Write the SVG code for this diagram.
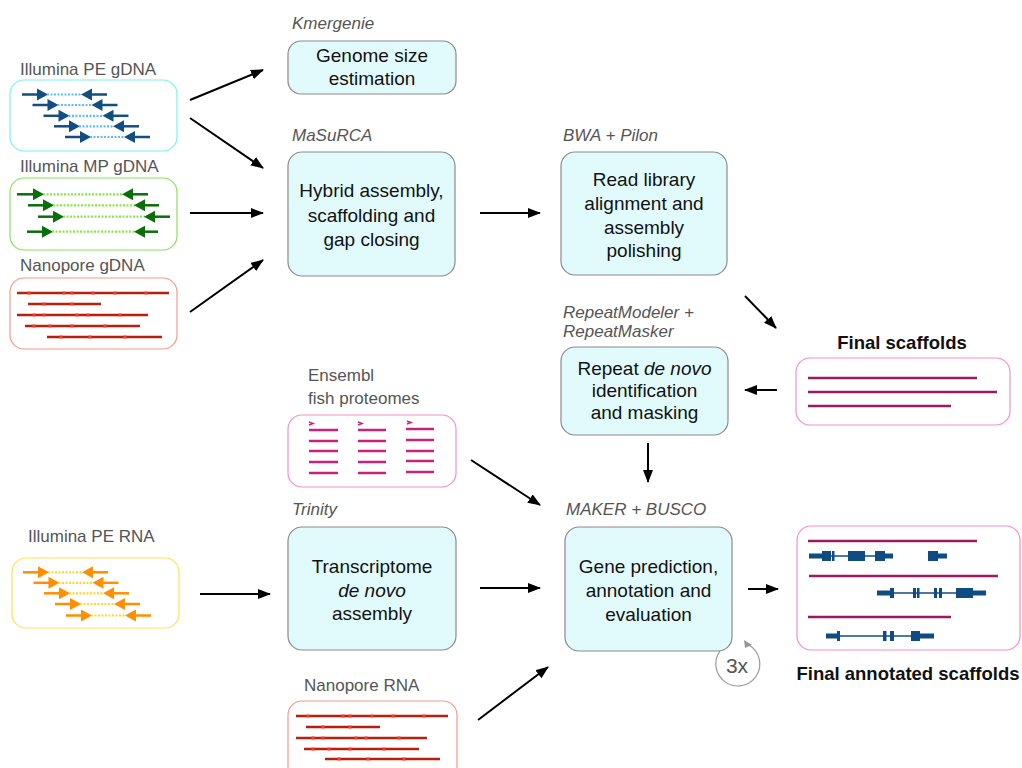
<svg xmlns="http://www.w3.org/2000/svg" width="1022" height="768" viewBox="0 0 1022 768">
<style>
.lbl{font-family:"Liberation Sans",Arial,sans-serif;font-size:17px;fill:#555;}
.it{font-style:italic;}
.bt{font-family:"Liberation Sans",Arial,sans-serif;font-size:19px;fill:#111;text-anchor:middle;}
.fin{font-family:"Liberation Sans",Arial,sans-serif;font-size:18.5px;font-weight:bold;fill:#111;text-anchor:middle;}
.main{fill:#e1fbfd;stroke:#8a8a8a;stroke-width:1.2;}
.conn{stroke:#000;stroke-width:2;fill:none;marker-end:url(#ah);}
.np{stroke:#b5200f;stroke-width:2.6;}
.npd{fill:#ff3a2a;}
.prot{stroke:#c8237a;stroke-width:2.5;}
.scf{stroke:#9c1a60;stroke-width:2.5;}
.gene{stroke:#0f4c81;fill:#0f4c81;}
</style>
<defs>
<marker id="ah" markerWidth="13" markerHeight="10" refX="12" refY="5" orient="auto" markerUnits="userSpaceOnUse">
<path d="M0,0 L13,5 L0,10 Z" fill="#000"/>
</marker>
<g id="pe-blue">
<line x1="0" y1="0" x2="18" y2="0" stroke="#134e80" stroke-width="2.5"/>
<polygon points="26,0 15,-6 15,6" fill="#134e80"/>
<line x1="25" y1="0" x2="60" y2="0" stroke="#5bc0f0" stroke-width="2.2" stroke-dasharray="2,1.5"/>
<polygon points="59,0 70,-6 70,6" fill="#134e80"/>
<line x1="68" y1="0" x2="85" y2="0" stroke="#134e80" stroke-width="2.5"/>
</g>
<g id="pe-orange">
<line x1="0" y1="0" x2="18" y2="0" stroke="#ff8f00" stroke-width="2.5"/>
<polygon points="26,0 15,-6 15,6" fill="#ff8f00"/>
<line x1="25" y1="0" x2="60" y2="0" stroke="#ffd52e" stroke-width="2.2" stroke-dasharray="2,1.5"/>
<polygon points="59,0 70,-6 70,6" fill="#ff8f00"/>
<line x1="68" y1="0" x2="85" y2="0" stroke="#ff8f00" stroke-width="2.5"/>
</g>
</defs>
<rect width="1022" height="768" fill="#fff"/>

<g id="illumina-pe-gdna">
<text class="lbl" x="20" y="75">Illumina PE gDNA</text>
<rect x="10" y="80" width="167" height="71" rx="14" fill="#fff" stroke="#7ff0f0" stroke-width="1.2"/>
<use href="#pe-blue" x="22" y="94.5"/>
<use href="#pe-blue" x="32.5" y="105"/>
<use href="#pe-blue" x="43.5" y="115.8"/>
<use href="#pe-blue" x="54" y="126.3"/>
<use href="#pe-blue" x="65" y="137"/>
</g>

<g id="illumina-mp-gdna">
<text class="lbl" x="20" y="172">Illumina MP gDNA</text>
<rect x="10" y="178" width="167" height="72" rx="14" fill="#fff" stroke="#8de05a" stroke-width="1.2"/>
<g stroke-width="2.5">
<line x1="17" y1="194.3" x2="36" y2="194.3" stroke="#0a6e0a"/>
<polygon points="44,194.3 33,188.3 33,200.3" fill="#0a6e0a"/>
<line x1="43" y1="194.3" x2="123" y2="194.3" stroke="#86e64a" stroke-width="2.2" stroke-dasharray="2,1.5"/>
<polygon points="122,194.3 133,188.3 133,200.3" fill="#0a6e0a"/>
<line x1="131" y1="194.3" x2="148" y2="194.3" stroke="#0a6e0a"/>

<line x1="28" y1="205.3" x2="46" y2="205.3" stroke="#0a6e0a"/>
<polygon points="54,205.3 43,199.3 43,211.3" fill="#0a6e0a"/>
<line x1="53" y1="205.3" x2="135" y2="205.3" stroke="#86e64a" stroke-width="2.2" stroke-dasharray="2,1.5"/>
<polygon points="134,205.3 145,199.3 145,211.3" fill="#0a6e0a"/>
<line x1="143" y1="205.3" x2="159" y2="205.3" stroke="#0a6e0a"/>

<line x1="38" y1="216.7" x2="56" y2="216.7" stroke="#0a6e0a"/>
<polygon points="64,216.7 53,210.7 53,222.7" fill="#0a6e0a"/>
<line x1="63" y1="216.7" x2="145" y2="216.7" stroke="#86e64a" stroke-width="2.2" stroke-dasharray="2,1.5"/>
<polygon points="144,216.7 155,210.7 155,222.7" fill="#0a6e0a"/>
<line x1="153" y1="216.7" x2="170" y2="216.7" stroke="#0a6e0a"/>

<line x1="27" y1="231.7" x2="45" y2="231.7" stroke="#0a6e0a"/>
<polygon points="53,231.7 42,225.7 42,237.7" fill="#0a6e0a"/>
<line x1="52" y1="231.7" x2="135" y2="231.7" stroke="#86e64a" stroke-width="2.2" stroke-dasharray="2,1.5"/>
<polygon points="134,231.7 145,225.7 145,237.7" fill="#0a6e0a"/>
<line x1="143" y1="231.7" x2="158" y2="231.7" stroke="#0a6e0a"/>
</g>
</g>

<g id="nanopore-gdna">
<text class="lbl" x="20" y="271">Nanopore gDNA</text>
<rect x="10" y="278" width="167" height="71" rx="14" fill="#fff" stroke="#f59a8a" stroke-width="1.2"/>
<line class="np" x1="17" y1="293" x2="169" y2="293"/>
<line class="np" x1="28" y1="304" x2="101" y2="304"/>
<line class="np" x1="17" y1="315" x2="148" y2="315"/>
<line class="np" x1="25" y1="326" x2="140" y2="326"/>
<line class="np" x1="47" y1="337" x2="162" y2="337"/>
<g class="npd">
<rect x="27.5" y="291.5" width="3" height="3"/><rect x="62.5" y="291.5" width="3" height="3"/><rect x="70.5" y="291.5" width="3" height="3"/><rect x="91.5" y="291.5" width="3" height="3"/><rect x="113.5" y="291.5" width="3" height="3"/><rect x="144.5" y="291.5" width="3" height="3"/>
<rect x="42.5" y="302.5" width="3" height="3"/><rect x="70.5" y="302.5" width="3" height="3"/>
<rect x="32.5" y="313.5" width="3" height="3"/><rect x="42.5" y="313.5" width="3" height="3"/><rect x="75.5" y="313.5" width="3" height="3"/><rect x="86.5" y="313.5" width="3" height="3"/><rect x="118.5" y="313.5" width="3" height="3"/>
<rect x="32.5" y="324.5" width="3" height="3"/><rect x="48.5" y="324.5" width="3" height="3"/><rect x="70.5" y="324.5" width="3" height="3"/><rect x="103.5" y="324.5" width="3" height="3"/>
<rect x="59.5" y="335.5" width="3" height="3"/><rect x="88.5" y="335.5" width="3" height="3"/><rect x="123.5" y="335.5" width="3" height="3"/>
</g>
</g>

<g id="genome-size">
<text class="lbl it" x="292" y="29">Kmergenie</text>
<rect class="main" x="288" y="41" width="168" height="53" rx="13"/>
<text class="bt" x="372" y="62">Genome size</text>
<text class="bt" x="372" y="85">estimation</text>
</g>

<g id="hybrid-assembly">
<text class="lbl it" x="292" y="141">MaSuRCA</text>
<rect class="main" x="288" y="152" width="167" height="124" rx="14"/>
<text class="bt" x="371.5" y="197">Hybrid assembly,</text>
<text class="bt" x="371.5" y="222">scaffolding and</text>
<text class="bt" x="371.5" y="246">gap closing</text>
</g>

<g id="polishing">
<text class="lbl it" x="563" y="141">BWA + Pilon</text>
<rect class="main" x="561" y="152" width="166" height="123" rx="14"/>
<text class="bt" x="644" y="186">Read library</text>
<text class="bt" x="644" y="210">alignment and</text>
<text class="bt" x="644" y="234">assembly</text>
<text class="bt" x="644" y="257">polishing</text>
</g>

<g id="repeat-masking">
<text class="lbl it" x="563" y="318">RepeatModeler +</text>
<text class="lbl it" x="563" y="337">RepeatMasker</text>
<rect class="main" x="561" y="347" width="167" height="88" rx="14"/>
<text class="bt" x="644.5" y="375">Repeat <tspan font-style="italic">de novo</tspan></text>
<text class="bt" x="644.5" y="397">identification</text>
<text class="bt" x="644.5" y="419">and masking</text>
</g>

<g id="final-scaffolds">
<text class="fin" x="902" y="349">Final scaffolds</text>
<rect x="796" y="358" width="214" height="67" rx="14" fill="#fff" stroke="#f58fc8" stroke-width="1.2"/>
<line class="scf" x1="808" y1="378" x2="977" y2="378"/>
<line class="scf" x1="808" y1="392" x2="997" y2="392"/>
<line class="scf" x1="808" y1="406" x2="951" y2="406"/>
</g>

<g id="ensembl">
<text class="lbl" x="308" y="381">Ensembl</text>
<text class="lbl" x="308" y="404">fish proteomes</text>
<rect x="288" y="415" width="168" height="72" rx="14" fill="#fff" stroke="#f58fc8" stroke-width="1.2"/>
<g class="prot" fill="none">
<path d="M309,422 l4,1.5 l-4,1.5" stroke-width="1.5"/>
<path d="M358,422 l4,1.5 l-4,1.5" stroke-width="1.5"/>
<path d="M407,421 l4,1.5 l-4,1.5" stroke-width="1.5"/>
<line x1="309" y1="430" x2="338" y2="430"/><line x1="309" y1="441" x2="338" y2="441"/><line x1="309" y1="451" x2="338" y2="451"/><line x1="309" y1="462" x2="338" y2="462"/><line x1="309" y1="473" x2="338" y2="473"/>
<line x1="358" y1="430" x2="386" y2="430"/><line x1="358" y1="441" x2="386" y2="441"/><line x1="358" y1="451" x2="386" y2="451"/><line x1="358" y1="462" x2="386" y2="462"/><line x1="358" y1="473" x2="386" y2="473"/>
<line x1="406" y1="429" x2="434" y2="429"/><line x1="406" y1="440" x2="434" y2="440"/><line x1="406" y1="451" x2="434" y2="451"/><line x1="406" y1="461" x2="434" y2="461"/><line x1="406" y1="472" x2="434" y2="472"/>
</g>
</g>

<g id="illumina-pe-rna">
<text class="lbl" x="28" y="542">Illumina PE RNA</text>
<rect x="12" y="558" width="167" height="70" rx="14" fill="#fff" stroke="#fde05a" stroke-width="1.2"/>
<use href="#pe-orange" x="23" y="572.3"/>
<use href="#pe-orange" x="33.5" y="582.8"/>
<use href="#pe-orange" x="44" y="593.3"/>
<use href="#pe-orange" x="55" y="604"/>
<use href="#pe-orange" x="66" y="615.5"/>
</g>

<g id="trinity">
<text class="lbl it" x="292" y="515">Trinity</text>
<rect class="main" x="288" y="527" width="168" height="123" rx="14"/>
<text class="bt" x="372" y="573">Transcriptome</text>
<text class="bt it" x="372" y="597">de novo</text>
<text class="bt" x="372" y="620">assembly</text>
</g>

<g id="maker">
<text class="lbl it" x="566" y="515">MAKER + BUSCO</text>
<rect class="main" x="565" y="527" width="167" height="124" rx="14"/>
<text class="bt" x="648.5" y="573">Gene prediction,</text>
<text class="bt" x="648.5" y="597">annotation and</text>
<text class="bt" x="648.5" y="621">evaluation</text>
</g>

<g id="iterations">
<path d="M720,651 A22,22 0 1 0 749,645" fill="none" stroke="#999" stroke-width="1.2"/>
<polygon points="744,640 752,645 745,648" fill="#999"/>
<text x="737" y="673" font-family="Liberation Sans, Arial, sans-serif" font-size="21" fill="#555" text-anchor="middle">3x</text>
</g>

<g id="nanopore-rna">
<text class="lbl" x="304" y="691">Nanopore RNA</text>
<rect x="288" y="701" width="169" height="80" rx="14" fill="#fff" stroke="#f59a8a" stroke-width="1.2"/>
<line class="np" x1="296" y1="716" x2="448" y2="716"/>
<line class="np" x1="306" y1="727" x2="380" y2="727"/>
<line class="np" x1="296" y1="738" x2="427" y2="738"/>
<line class="np" x1="304" y1="749" x2="419" y2="749"/>
<line class="np" x1="325" y1="759" x2="440" y2="759"/>
<g class="npd">
<rect x="306.5" y="714.5" width="3" height="3"/><rect x="341.5" y="714.5" width="3" height="3"/><rect x="348.5" y="714.5" width="3" height="3"/><rect x="370.5" y="714.5" width="3" height="3"/><rect x="391.5" y="714.5" width="3" height="3"/><rect x="422.5" y="714.5" width="3" height="3"/>
<rect x="321.5" y="725.5" width="3" height="3"/><rect x="348.5" y="725.5" width="3" height="3"/>
<rect x="311.5" y="736.5" width="3" height="3"/><rect x="321.5" y="736.5" width="3" height="3"/><rect x="354.5" y="736.5" width="3" height="3"/><rect x="364.5" y="736.5" width="3" height="3"/><rect x="397.5" y="736.5" width="3" height="3"/>
<rect x="311.5" y="747.5" width="3" height="3"/><rect x="327.5" y="747.5" width="3" height="3"/><rect x="348.5" y="747.5" width="3" height="3"/><rect x="382.5" y="747.5" width="3" height="3"/>
<rect x="337.5" y="757.5" width="3" height="3"/><rect x="366.5" y="757.5" width="3" height="3"/><rect x="402.5" y="757.5" width="3" height="3"/>
</g>
</g>

<g id="final-annotated">
<rect x="797" y="526" width="223" height="124" rx="14" fill="#fff" stroke="#f58fc8" stroke-width="1.2"/>
<line class="scf" x1="808" y1="541" x2="977" y2="541"/>
<line class="scf" x1="809" y1="576" x2="998" y2="576"/>
<line class="scf" x1="808" y1="617" x2="951" y2="617"/>
<g class="gene">
<line x1="809" y1="556" x2="893" y2="556" stroke-width="1.5"/>
<rect x="809" y="553.5" width="14" height="5" stroke="none"/>
<rect x="822" y="551" width="9" height="10" stroke="none"/>
<rect x="832" y="551" width="2.5" height="10" stroke="none"/>
<rect x="848" y="551" width="17" height="10" stroke="none"/>
<rect x="875" y="551" width="10" height="10" stroke="none"/>
<rect x="885" y="553.5" width="8" height="5" stroke="none"/>
<rect x="928" y="551" width="10" height="10" stroke="none"/>
<rect x="938" y="553.5" width="9" height="5" stroke="none"/>

<line x1="877" y1="593" x2="986" y2="593" stroke-width="1.5"/>
<rect x="877" y="590.5" width="13" height="5" stroke="none"/>
<rect x="890" y="588" width="4" height="10" stroke="none"/>
<rect x="913" y="588" width="3" height="10" stroke="none"/>
<rect x="917" y="588" width="2.5" height="10" stroke="none"/>
<rect x="934" y="588" width="3" height="10" stroke="none"/>
<rect x="939" y="588" width="3" height="10" stroke="none"/>
<rect x="956" y="588" width="17" height="10" stroke="none"/>
<rect x="973" y="590.5" width="13" height="5" stroke="none"/>

<line x1="826" y1="636" x2="934" y2="636" stroke-width="1.5"/>
<rect x="826" y="633.5" width="11" height="5" stroke="none"/>
<rect x="837" y="631" width="3" height="10" stroke="none"/>
<rect x="883" y="631" width="3.5" height="10" stroke="none"/>
<rect x="890" y="631" width="4" height="10" stroke="none"/>
<rect x="911" y="631" width="9" height="10" stroke="none"/>
<rect x="920" y="633.5" width="14" height="5" stroke="none"/>
</g>
<text class="fin" x="908" y="680">Final annotated scaffolds</text>
</g>

<g id="connectors">
<line class="conn" x1="190" y1="100" x2="263" y2="70"/>
<line class="conn" x1="190" y1="118" x2="263" y2="168"/>
<line class="conn" x1="190" y1="213" x2="263" y2="213"/>
<line class="conn" x1="190" y1="312" x2="263" y2="260"/>
<line class="conn" x1="480" y1="213" x2="540" y2="213"/>
<line class="conn" x1="745" y1="296" x2="776" y2="328"/>
<line class="conn" x1="777" y1="390" x2="745" y2="390"/>
<line class="conn" x1="648" y1="443" x2="648" y2="482"/>
<line class="conn" x1="471" y1="460" x2="540" y2="505"/>
<line class="conn" x1="200" y1="594" x2="270" y2="594"/>
<line class="conn" x1="480" y1="588" x2="540" y2="588"/>
<line class="conn" x1="748" y1="589" x2="778" y2="589"/>
<line class="conn" x1="478" y1="720" x2="548" y2="667"/>
</g>
</svg>
